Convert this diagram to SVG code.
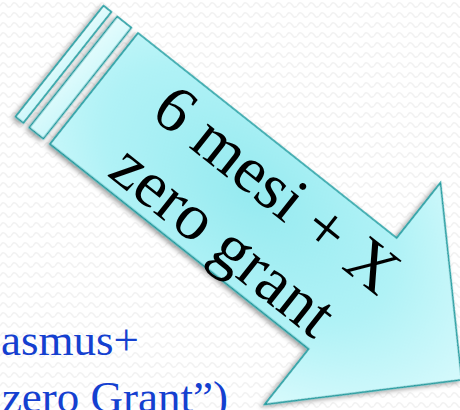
<svg xmlns="http://www.w3.org/2000/svg" width="460" height="410" viewBox="0 0 460 410">
  <defs>
    <pattern id="bgwave" width="11" height="10" patternUnits="userSpaceOnUse">
      <rect width="11" height="10" fill="#ffffff"/>
      <path d="M0,6 C2.75,2 2.75,2 5.5,4 C8.25,8 8.25,8 11,6" fill="none" stroke="#f2f2f2" stroke-width="1.5"/>
    </pattern>
    <radialGradient id="fillGrad" cx="0.4" cy="0.45" r="0.65">
      <stop offset="0" stop-color="#96eaf0"/>
      <stop offset="0.55" stop-color="#b0f2f6"/>
      <stop offset="1" stop-color="#dcfbfd"/>
    </radialGradient>
    <linearGradient id="stripeGrad" x1="0" y1="0" x2="1" y2="1">
      <stop offset="0" stop-color="#e4fcfd"/>
      <stop offset="1" stop-color="#ccf7fa"/>
    </linearGradient>
    <filter id="shadow" x="-20%" y="-20%" width="140%" height="140%">
      <feDropShadow dx="-1" dy="3" stdDeviation="2.5" flood-color="#000" flood-opacity="0.4"/>
    </filter>
  </defs>
  <style>
    .shape { stroke: #1a9a9e; stroke-width: 1.6; stroke-linejoin: miter; }
    .label { font-family: "Liberation Serif", "Times New Roman", serif; font-size: 66px; fill: #000000; }
    .blue { font-family: "Liberation Serif", "Times New Roman", serif; font-size: 45px; fill: #1440d0; }
  </style>
  <rect width="460" height="410" fill="url(#bgwave)"/>

  <g id="bottom-text">
    <text class="blue" x="139" y="355" text-anchor="end">asmus+</text>
    <text class="blue" x="228" y="412" text-anchor="end">zero Grant”)</text>
  </g>

  <g id="arrow" transform="translate(138,33) rotate(38.4)">
    <g filter="url(#shadow)">
      <rect class="shape" x="-44" y="0" width="10" height="141.6" fill="url(#stripeGrad)"/>
      <rect class="shape" x="-26.5" y="0" width="18" height="141.6" fill="url(#stripeGrad)"/>
      <path class="shape" d="M0,0 L330,0 L330,-70.6 L469,70.8 L330,212.2 L330,141.6 L0,141.6 Z" fill="url(#fillGrad)"/>
    </g>
    <g id="arrow-label">
      <text class="label" x="60" y="58">6 mesi + X</text>
      <text class="label" x="63" y="131">zero grant</text>
    </g>
  </g>
</svg>
